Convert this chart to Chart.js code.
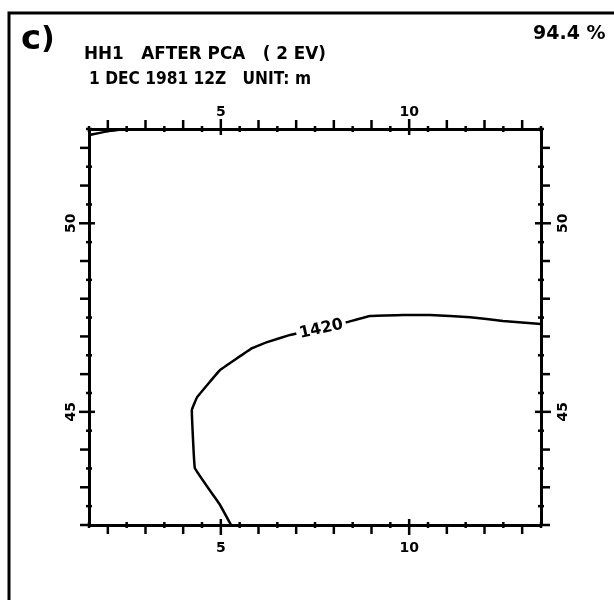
<!DOCTYPE html>
<html>
<head>
<meta charset="utf-8">
<script src="https://cdn.jsdelivr.net/npm/chart.js@4.4.0/dist/chart.umd.min.js"></script>
<style>
  html, body { margin: 0; padding: 0; background: #fff; }
  #wrap { position: relative; width: 614px; height: 600px; }
</style>
</head>
<body>
<div id="wrap"><canvas id="mapa"></canvas></div>
<script>
// limites da janela (graus)
const lonRange = [1.5, 13.5];
const latRange = [42, 52.5];
const lonLabels = [5, 10];
const latLabels = [45, 50];

// isolinha de 1420 m
const iso1420Lon = [5.27, 4.98, 4.31, 4.23, 4.37, 4.98, 5.83, 6.23, 6.84, 7.66, 8.35, 8.96, 9.84, 10.55, 11.62, 12.49, 13.5];
const iso1420Lat = [42.0, 42.53, 43.51, 45.05, 45.39, 46.11, 46.69, 46.85, 47.04, 47.22, 47.38, 47.54, 47.57, 47.57, 47.51, 47.41, 47.33];
const iso1420Label = '1420';
const iso1420LabelIdx = 9;

// isolinha sem rotulo no canto NW
const isoNwLon = [1.5, 2.06, 2.46];
const isoNwLat = [52.34, 52.45, 52.5];

const painel = 'c)';
const variancia = '94.4 %';
const titulo = 'HH1   AFTER PCA   ( 2 EV)';
const subtitulo = '1 DEC 1981 12Z   UNIT: m';

const toPts = (xs, ys) => xs.map((x, i) => ({ x, y: ys[i] }));
const fonte = 'DejaVu Sans';

// texto, moldura e tracinhos dos eixos
const moldura = {
    id: 'moldura',
    afterDraw(chart) {
        const ctx = chart.ctx;
        ctx.save();
        ctx.strokeStyle = '#000';
        ctx.fillStyle = '#000';
        ctx.lineWidth = 3;
        ctx.beginPath();
        ctx.moveTo(9, 600); ctx.lineTo(9, 13); ctx.lineTo(614, 13);
        ctx.stroke();

        ctx.textBaseline = 'alphabetic';
        ctx.textAlign = 'left';
        ctx.font = `bold 34px ${fonte}`;
        ctx.fillText(painel[0], 21, 49);
        ctx.font = `bold 30px ${fonte}`;
        ctx.fillText(painel[1], 41, 48);

        ctx.font = `bold 19px ${fonte}`;
        ctx.fillText(variancia, 533, 39, 79);
        ctx.font = `bold 18px ${fonte}`;
        ctx.fillText(titulo, 84, 59, 242);
        ctx.fillText(subtitulo, 89, 84, 222);

        // tracinhos: inteiros para fora, meios graus curtos, rotulados cruzam
        ctx.lineWidth = 2.5;
        const dirs = { x: [0, 1], x2: [0, -1], y: [-1, 0], y2: [1, 0] };
        Object.entries(dirs).forEach(([id, [dx, dy]]) => {
            const s = chart.scales[id];
            const base = id === 'x' ? s.top : id === 'x2' ? s.bottom : id === 'y' ? s.right : s.left;
            s.ticks.forEach(t => {
                const v = t.value;
                const p = s.getPixelForValue(v);
                let inn = 3, out = 3;
                if (v % 5 === 0) { inn = 6; out = 10; }
                else if (Number.isInteger(v)) { inn = 0; out = 9; }
                ctx.beginPath();
                if (dx === 0) { ctx.moveTo(p, base - dy * inn); ctx.lineTo(p, base + dy * out); }
                else { ctx.moveTo(base - dx * inn, p); ctx.lineTo(base + dx * out, p); }
                ctx.stroke();
            });
        });

        // rotulo da isolinha
        const sx = chart.scales.x, sy = chart.scales.y;
        const i = iso1420LabelIdx;
        const px = sx.getPixelForValue(iso1420Lon[i]);
        const py = sy.getPixelForValue(iso1420Lat[i]);
        const ang = Math.atan2(
            sy.getPixelForValue(iso1420Lat[i + 1]) - sy.getPixelForValue(iso1420Lat[i - 1]),
            sx.getPixelForValue(iso1420Lon[i + 1]) - sx.getPixelForValue(iso1420Lon[i - 1]));
        ctx.translate(px, py);
        ctx.rotate(ang);
        ctx.font = `bold 16px ${fonte}`;
        const w = ctx.measureText(iso1420Label).width;
        ctx.fillStyle = '#fff';
        ctx.fillRect(-w / 2 - 3, -9, w + 6, 18);
        ctx.fillStyle = '#000';
        ctx.textAlign = 'center';
        ctx.textBaseline = 'middle';
        ctx.fillText(iso1420Label, 0, 1);
        ctx.restore();
    }
};

const fixa = (dim, val) => (scale) => { scale[dim] = val; };

const eixo = (pos, range, labels, extra) => Object.assign({
    type: 'linear',
    position: pos,
    min: range[0],
    max: range[1],
    grid: { display: false, drawTicks: false },
    border: { display: true, color: '#000', width: 3 },
    ticks: {
        stepSize: 0.5,
        maxTicksLimit: 40,
        autoSkip: false,
        minRotation: 0,
        maxRotation: 0,
        color: '#000',
        font: { family: fonte, size: 14, weight: 'bold' },
        callback: v => labels.includes(v) ? String(v) : ''
    }
}, extra);

const cfg = {
    type: 'scatter',
    data: {
        datasets: [
            {
                data: toPts(iso1420Lon, iso1420Lat),
                showLine: true, borderColor: '#000', borderWidth: 2.5,
                pointRadius: 0, tension: 0.05, xAxisID: 'x', yAxisID: 'y'
            },
            {
                data: toPts(isoNwLon, isoNwLat),
                showLine: true, borderColor: '#000', borderWidth: 2.5,
                pointRadius: 0, tension: 0.2, xAxisID: 'x', yAxisID: 'y'
            }
        ]
    },
    options: {
        responsive: true,
        maintainAspectRatio: false,
        animation: false,
        layout: { padding: 0 },
        plugins: { legend: { display: false }, tooltip: { enabled: false } },
        scales: {
            x: eixo('bottom', lonRange, lonLabels, { afterFit: fixa('height', 75) }),
            x2: eixo('top', lonRange, lonLabels, { afterFit: fixa('height', 129) }),
            y: eixo('left', latRange, latLabels, { afterFit: fixa('width', 89) }),
            y2: eixo('right', latRange, latLabels, { afterFit: fixa('width', 73) })
        }
    },
    plugins: [moldura]
};
cfg.options.scales.x.ticks.padding = 15;
cfg.options.scales.x2.ticks.padding = 8;
Object.assign(cfg.options.scales.y.ticks, { minRotation: 90, maxRotation: 90, crossAlign: 'center', padding: 8 });
Object.assign(cfg.options.scales.y2.ticks, { minRotation: 90, maxRotation: 90, crossAlign: 'center', padding: 13 });

new Chart(document.getElementById('mapa'), cfg);
</script>
</body>
</html>
